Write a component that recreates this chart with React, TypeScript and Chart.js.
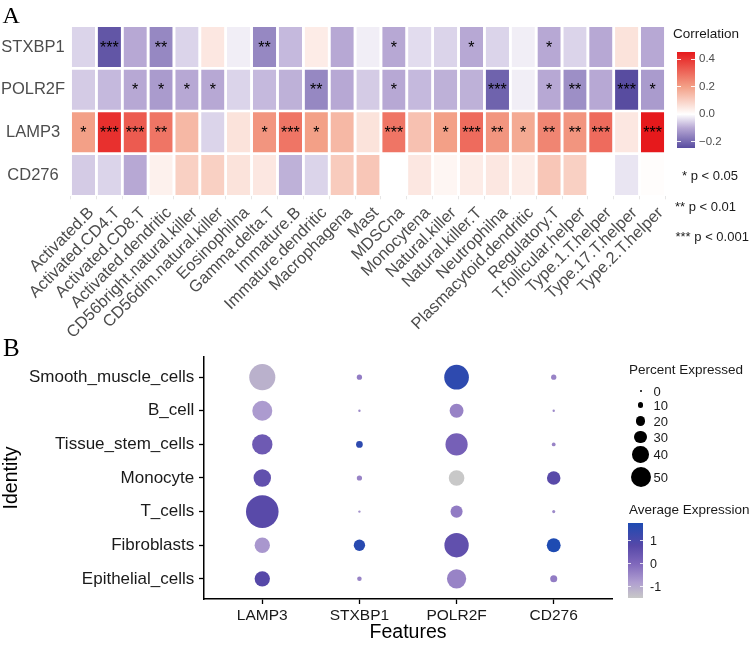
import React, { useEffect, useRef } from "react";
import { Chart, registerables } from "chart.js";
Chart.register(...registerables);

const FONT = "'Liberation Sans', Arial, Helvetica, sans-serif";
const SERIF = "'Liberation Serif', 'Times New Roman', serif";

// ---------- Panel A data ----------
const cellTypes = [
  "Activated.B", "Activated.CD4.T", "Activated.CD8.T", "Activated.dendritic",
  "CD56bright.natural.killer", "CD56dim.natural.killer", "Eosinophilna", "Gamma.delta.T",
  "Immature.B", "Immature.dendritic", "Macrophagena", "Mast", "MDSCna", "Monocytena",
  "Natural.killer", "Natural.killer.T", "Neutrophilna", "Plasmacytoid.dendritic",
  "Regulatory.T", "T.follicular.helper", "Type.1.T.helper", "Type.17.T.helper", "Type.2.T.helper",
];
const corrSTXBP1 = [-0.05, -0.23, -0.1, -0.15, -0.05, 0.05, -0.02, -0.15, -0.08, 0.04, -0.1, -0.02, -0.1, -0.04, -0.05, -0.1, -0.05, -0.02, -0.1, -0.05, -0.1, 0.06, -0.1];
const corrPOLR2F = [-0.06, -0.08, -0.1, -0.12, -0.1, -0.1, -0.05, -0.08, -0.09, -0.15, -0.1, -0.06, -0.1, -0.08, -0.09, -0.09, -0.21, -0.02, -0.1, -0.14, -0.1, -0.246, -0.12];
const corrLAMP3 = [0.2, 0.41, 0.33, 0.28, 0.15, -0.05, 0.06, 0.22, 0.28, 0.2, 0.15, 0.06, 0.28, 0.13, 0.2, 0.3, 0.22, 0.18, 0.25, 0.22, 0.3, 0.05, 0.453];
const corrCD276 = [-0.06, -0.05, -0.1, 0.03, 0.1, 0.1, 0.06, 0.05, -0.09, -0.05, 0.11, 0.12, 0.0, 0.05, 0.02, 0.04, 0.05, 0.04, 0.12, 0.1, 0.0, -0.03, 0.005];
const sigSTXBP1 = ["", "***", "", "**", "", "", "", "**", "", "", "", "", "*", "", "", "*", "", "", "*", "", "", "", ""];
const sigPOLR2F = ["", "", "*", "*", "*", "*", "", "", "", "**", "", "", "*", "", "", "", "***", "", "*", "**", "", "***", "*"];
const sigLAMP3 = ["*", "***", "***", "**", "", "", "", "*", "***", "*", "", "", "***", "", "*", "***", "**", "*", "**", "**", "***", "", "***"];
const sigCD276 = ["", "", "", "", "", "", "", "", "", "", "", "", "", "", "", "", "", "", "", "", "", "", ""];
const corrLegendTicks = [0.4, 0.2, 0.0, -0.2];
const corrMin = -0.246;
const corrMax = 0.453;
const pLegend = ["* p < 0.05", "** p < 0.01", "*** p < 0.001"];

// ---------- Panel B data ----------
const identities = ["Epithelial_cells", "Fibroblasts", "T_cells", "Monocyte", "Tissue_stem_cells", "B_cell", "Smooth_muscle_cells"];
const features = ["LAMP3", "STXBP1", "POLR2F", "CD276"];
const pctLAMP3 = [37, 37, 85, 43, 51, 50, 67];
const pctSTXBP1 = [7, 26, 1, 9, 13, 1, 9];
const pctPOLR2F = [48, 62, 28, 38, 56, 33, 63];
const pctCD276 = [14, 33, 3, 32, 5, 1, 9];
const avgLAMP3 = [0.8, -0.7, 0.75, 0.6, 0.35, -0.75, -1.1];
const avgSTXBP1 = [-0.4, 1.6, -0.6, -0.4, 1.5, -0.5, -0.3];
const avgPOLR2F = [-0.4, 0.6, -0.3, -1.48, 0.2, -0.4, 1.5];
const avgCD276 = [-0.3, 1.78, -0.5, 0.75, -0.4, -0.5, -0.4];
const pctLegend = [0, 10, 20, 30, 40, 50];
const avgLegendTicks = [1, 0, -1];
const avgMin = -1.48;
const avgMax = 1.78;

// ---------- styling helpers ----------
type Stop = [number, number, number, number];
const heatStops: Stop[] = [
  [corrMin, 88, 76, 160],
  [-0.1, 183, 168, 212],
  [0, 255, 255, 255],
  [0.2, 243, 160, 135],
  [corrMax, 230, 25, 28],
];
const dotStops: Stop[] = [
  [avgMin, 200, 200, 200],
  [-0.8, 175, 158, 208],
  [0, 128, 104, 188],
  [0.8, 86, 72, 168],
  [avgMax, 30, 75, 178],
];
function colorAt(stops: Stop[], v: number): string {
  if (v <= stops[0][0]) return `rgb(${stops[0][1]},${stops[0][2]},${stops[0][3]})`;
  for (let i = 1; i < stops.length; i++) {
    if (v <= stops[i][0]) {
      const a = stops[i - 1], b = stops[i];
      const t = (v - a[0]) / (b[0] - a[0]);
      const c = [1, 2, 3].map((k) => Math.round(a[k] + (b[k] - a[k]) * t));
      return `rgb(${c[0]},${c[1]},${c[2]})`;
    }
  }
  const l = stops[stops.length - 1];
  return `rgb(${l[1]},${l[2]},${l[3]})`;
}
function gradientCss(stops: Stop[], min: number, max: number) {
  const parts = stops.map((s) => `rgb(${s[1]},${s[2]},${s[3]}) ${(((s[0] - min) / (max - min)) * 100).toFixed(2)}%`);
  return `linear-gradient(to top, ${parts.join(", ")})`;
}
const radiusOf = (p: number) => 1 + 0.18 * p;

const heatRowsBottomUp = [
  { gene: "CD276", corr: corrCD276, sig: sigCD276 },
  { gene: "LAMP3", corr: corrLAMP3, sig: sigLAMP3 },
  { gene: "POLR2F", corr: corrPOLR2F, sig: sigPOLR2F },
  { gene: "STXBP1", corr: corrSTXBP1, sig: sigSTXBP1 },
];
const pctByFeature = [pctLAMP3, pctSTXBP1, pctPOLR2F, pctCD276];
const avgByFeature = [avgLAMP3, avgSTXBP1, avgPOLR2F, avgCD276];

const starPlugin = {
  id: "stars",
  afterDatasetsDraw(chart: any) {
    const ctx = chart.ctx;
    ctx.save();
    ctx.fillStyle = "#000";
    ctx.font = `16px ${FONT}`;
    ctx.textAlign = "center";
    ctx.textBaseline = "alphabetic";
    chart.data.datasets.forEach((ds: any, di: number) => {
      const meta = chart.getDatasetMeta(di);
      meta.data.forEach((bar: any, i: number) => {
        const s = ds.sig[i];
        if (!s) return;
        const { x, y, base } = bar.getProps(["x", "y", "base"], true);
        ctx.fillText(s, x, (y + base) / 2 + 5.5);
      });
    });
    ctx.restore();
  },
};

function T(props: { x: number; y: number; s: number; c?: string; f?: string; children: any }) {
  const { x, y, s, c = "#1a1a1a", f = FONT, children } = props;
  return (
    <div style={{ position: "absolute", left: x, top: y - s * 0.5, fontSize: s, lineHeight: `${s}px`, color: c, fontFamily: f, whiteSpace: "nowrap" }}>
      {children}
    </div>
  );
}

// layout of legends (pixels)
const corrBar = { x: 677, y: 51.7, w: 17.5, h: 96.3 };
const avgBar = { x: 628, y: 523, w: 15, h: 75 };
const sizeKeyY = [391, 405, 421, 437, 454.5, 477];
const pLegendPos = [
  { x: 682, y: 175 },
  { x: 675, y: 206.5 },
  { x: 675.5, y: 236.5 },
];

export default function App() {
  const heatRef = useRef<HTMLCanvasElement>(null);
  const dotRef = useRef<HTMLCanvasElement>(null);

  useEffect(() => {
    const heat = new Chart(heatRef.current as HTMLCanvasElement, {
      type: "bar",
      data: {
        labels: cellTypes,
        datasets: heatRowsBottomUp.map((row) => ({
          label: row.gene,
          data: cellTypes.map(() => 1),
          sig: row.sig,
          backgroundColor: row.corr.map((v) => colorAt(heatStops, v)),
          borderColor: "#ffffff",
          borderWidth: { top: 1.35, bottom: 1.35, left: 0, right: 0 },
          borderSkipped: false,
          barPercentage: 0.9,
          categoryPercentage: 1,
          stack: "s",
        })) as any,
      },
      options: {
        responsive: false,
        animation: false,
        events: [],
        layout: { padding: { top: 25.7, right: 88.5, left: 0, bottom: 0 } },
        plugins: { legend: { display: false }, tooltip: { enabled: false } },
        scales: {
          x: {
            stacked: true,
            grid: { display: true, drawOnChartArea: false, drawTicks: true, tickLength: 3, color: "#e6e6e6" },
            border: { display: false },
            ticks: { autoSkip: false, maxRotation: 45, minRotation: 45, labelOffset: 8, padding: 4, color: "#4d4d4d", font: { family: FONT, size: 16.5 } },
            afterFit: (s: any) => { s.height = 143.7; },
          },
          y: {
            stacked: true,
            min: 0,
            max: 4,
            grid: { display: false, drawTicks: false },
            border: { display: false },
            afterBuildTicks: (s: any) => { s.ticks = heatRowsBottomUp.map((_, i) => ({ value: i + 0.5 })); },
            ticks: {
              crossAlign: "center",
              padding: 5.4,
              color: "#4d4d4d",
              font: { family: FONT, size: 16.5 },
              callback: (v: any) => heatRowsBottomUp[Math.floor(Number(v))]?.gene ?? "",
            },
            afterFit: (s: any) => { s.width = 70.5; },
          },
        },
      } as any,
      plugins: [starPlugin],
    });

    const dot = new Chart(dotRef.current as HTMLCanvasElement, {
      type: "bubble",
      data: {
        datasets: features.map((f, fi) => ({
          label: f,
          data: identities.map((_, ii) => ({ x: fi + 1, y: ii + 1, r: radiusOf(pctByFeature[fi][ii]) })),
          backgroundColor: avgByFeature[fi].map((v) => colorAt(dotStops, v)),
          borderWidth: 0,
          clip: false,
        })) as any,
      },
      options: {
        responsive: false,
        animation: false,
        events: [],
        layout: { padding: { top: 17, right: 142, left: 0, bottom: 0 } },
        plugins: { legend: { display: false }, tooltip: { enabled: false } },
        scales: {
          x: {
            type: "linear",
            min: 0.4,
            max: 4.6,
            afterBuildTicks: (s: any) => { s.ticks = features.map((_, i) => ({ value: i + 1 })); },
            ticks: { callback: (v: any) => features[Math.round(Number(v)) - 1] ?? "", padding: 2, color: "#1a1a1a", font: { family: FONT, size: 15.5 } },
            grid: { drawOnChartArea: false, tickLength: 5, tickColor: "#000", tickWidth: 1.3 },
            border: { display: true, color: "#000", width: 1.5 },
            title: { display: true, text: "Features", color: "#000", font: { family: FONT, size: 19.5 }, padding: { top: 0, bottom: 2 } },
            afterFit: (s: any) => { s.height = 47; },
          },
          y: {
            type: "linear",
            min: 0.4,
            max: 7.6,
            afterBuildTicks: (s: any) => { s.ticks = identities.map((_, i) => ({ value: i + 1 })); },
            ticks: { callback: (v: any) => identities[Math.round(Number(v)) - 1] ?? "", padding: 4.7, color: "#1a1a1a", font: { family: FONT, size: 17 } },
            grid: { drawOnChartArea: false, tickLength: 5, tickColor: "#000", tickWidth: 1.3 },
            border: { display: true, color: "#000", width: 1.5 },
            title: { display: true, text: "Identity", color: "#000", font: { family: FONT, size: 19.5 }, padding: { top: 0, bottom: 0 } },
            afterFit: (s: any) => { s.width = 204; },
          },
        },
      } as any,
    });

    return () => {
      heat.destroy();
      dot.destroy();
    };
  }, []);

  const corrY = (v: number) => corrBar.y + ((corrMax - v) / (corrMax - corrMin)) * corrBar.h;
  const avgY = (v: number) => avgBar.y + ((avgMax - v) / (avgMax - avgMin)) * avgBar.h;

  return (
    <div style={{ position: "absolute", left: 0, top: 0, width: 754, height: 646, background: "#fff", overflow: "hidden" }}>
      <canvas ref={heatRef} width={754} height={340} style={{ position: "absolute", left: 0, top: 0, width: 754, height: 340 }} />
      <canvas ref={dotRef} width={754} height={306} style={{ position: "absolute", left: 0, top: 340, width: 754, height: 306 }} />

      <div style={{ position: "absolute", left: 2.5, top: 2.5, fontSize: 24, lineHeight: "24px", fontFamily: SERIF, color: "#000" }}>A</div>
      <div style={{ position: "absolute", left: 3, top: 335, fontSize: 25, lineHeight: "25px", fontFamily: SERIF, color: "#000" }}>B</div>

      {/* Correlation legend */}
      <T x={673} y={34} s={13.5}>Correlation</T>
      <div style={{ position: "absolute", left: corrBar.x, top: corrBar.y, width: corrBar.w, height: corrBar.h, background: gradientCss(heatStops, corrMin, corrMax) }} />
      {corrLegendTicks.map((v) => (
        <React.Fragment key={"ct" + v}>
          <div style={{ position: "absolute", left: corrBar.x, top: corrY(v) - 0.5, width: 3.5, height: 1, background: "rgba(255,255,255,0.9)" }} />
          <div style={{ position: "absolute", left: corrBar.x + corrBar.w - 3.5, top: corrY(v) - 0.5, width: 3.5, height: 1, background: "rgba(255,255,255,0.9)" }} />
          <T x={699} y={corrY(v)} s={11.5} c="#4d4d4d">{v.toFixed(1).replace("-", "\u2212")}</T>
        </React.Fragment>
      ))}
      {pLegend.map((t, i) => (
        <T key={t} x={pLegendPos[i].x} y={pLegendPos[i].y} s={13}>{t}</T>
      ))}

      {/* Percent Expressed legend */}
      <T x={629} y={370} s={13.5}>Percent Expressed</T>
      {pctLegend.map((p, i) => {
        const r = radiusOf(p);
        return (
          <React.Fragment key={"pk" + p}>
            <div style={{ position: "absolute", left: 640.5 - r, top: sizeKeyY[i] - r, width: 2 * r, height: 2 * r, borderRadius: "50%", background: "#000" }} />
            <T x={653.5} y={sizeKeyY[i]} s={13}>{String(p)}</T>
          </React.Fragment>
        );
      })}

      {/* Average Expression legend */}
      <T x={629} y={510} s={13.5}>Average Expression</T>
      <div style={{ position: "absolute", left: avgBar.x, top: avgBar.y, width: avgBar.w, height: avgBar.h, background: gradientCss(dotStops, avgMin, avgMax) }} />
      {avgLegendTicks.map((v) => (
        <React.Fragment key={"at" + v}>
          <div style={{ position: "absolute", left: avgBar.x, top: avgY(v) - 0.5, width: 3, height: 1, background: "rgba(255,255,255,0.8)" }} />
          <div style={{ position: "absolute", left: avgBar.x + avgBar.w - 3, top: avgY(v) - 0.5, width: 3, height: 1, background: "rgba(255,255,255,0.8)" }} />
          <T x={650} y={avgY(v)} s={12.5}>{String(v)}</T>
        </React.Fragment>
      ))}
    </div>
  );
}
